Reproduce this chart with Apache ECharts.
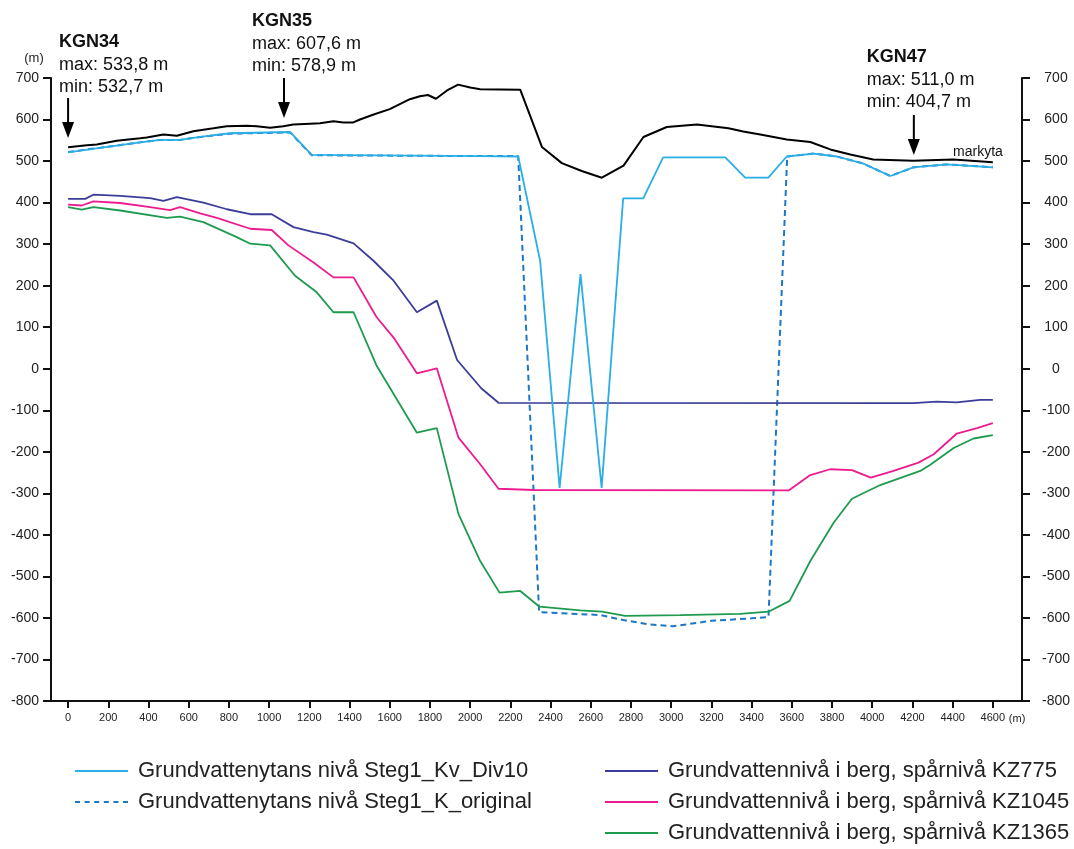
<!DOCTYPE html>
<html><head><meta charset="utf-8">
<script src="https://cdn.jsdelivr.net/npm/echarts@6/dist/echarts.min.js"></script>
<style>html,body{margin:0;padding:0;background:#fff}#c{width:1074px;height:849px}</style>
</head><body><div id="c"></div>
<script>
// ---------- data ----------
const xTicks = [0,200,400,600,800,1000,1200,1400,1600,1800,2000,2200,2400,2600,2800,3000,3200,3400,3600,3800,4000,4200,4400,4600];
const yTicks = [-800,-700,-600,-500,-400,-300,-200,-100,0,100,200,300,400,500,600,700];

const seriesNames = [
  'Grundvattenytans nivå Steg1_Kv_Div10',
  'Grundvattenytans nivå Steg1_K_original',
  'Grundvattennivå i berg, spårnivå KZ775',
  'Grundvattennivå i berg, spårnivå KZ1045',
  'Grundvattennivå i berg, spårnivå KZ1365'
];

const markyta = [[0,533],[93,538],[143,540],[242,549],[358,555],[391,557],[474,564],[541,561],[623,572],[723,579],[789,584],[889,585],[938,584],[1005,580],[1071,584],[1120,588],[1204,590],[1253,591],[1320,596],[1369,593],[1419,593],[1452,600],[1520,612],[1600,625],[1700,649],[1750,656],[1790,659],[1830,650],[1885,670],[1940,684],[2000,677],[2050,673],[2249,672],[2357,534],[2456,495],[2555,476],[2655,460],[2763,489],[2862,558],[2978,582],[3128,588],[3285,579],[3358,571],[3443,564],[3575,552],[3692,546],[3791,528],[3891,516],[4005,504],[4204,501],[4403,504],[4600,497]];

const kvDiv10 = [[0,521],[159,532],[358,545],[458,551],[557,551],[657,558],[806,567],[1104,570],[1212,515],[2050,512],[2239,511],[2348,260],[2445,-287],[2549,228],[2654,-287],[2761,410],[2861,410],[2960,509],[3269,509],[3368,460],[3483,460],[3575,511],[3708,518],[3824,511],[3956,494],[4090,464],[4205,485],[4372,492],[4600,485]];

const kOriginal = [[0,522],[159,532],[358,545],[458,551],[557,551],[657,558],[806,566],[1104,569],[1212,514],[2050,512],[2239,512],[2343,-586],[2647,-593],[2761,-605],[2880,-615],[3010,-620],[3200,-607],[3400,-601],[3484,-598],[3577,511],[3708,518],[3824,511],[3956,494],[4090,464],[4205,485],[4372,492],[4600,485]];

const kz775 = [[0,409],[85,409],[126,419],[259,416],[408,411],[474,404],[541,413],[673,400],[790,384],[906,372],[1013,372],[1121,341],[1221,329],[1287,323],[1420,302],[1519,260],[1619,212],[1735,136],[1834,164],[1935,21],[2055,-47],[2141,-82],[4204,-83],[4320,-79],[4420,-81],[4537,-75],[4600,-75]];

const kz1045 = [[0,395],[68,393],[126,403],[259,399],[408,389],[507,382],[557,389],[657,374],[740,363],[906,337],[1013,334],[1096,297],[1221,256],[1320,220],[1420,220],[1535,124],[1619,75],[1735,-11],[1834,1],[1942,-166],[2050,-230],[2141,-289],[2314,-292],[3584,-293],[3692,-256],[3791,-242],[3899,-244],[3993,-262],[4106,-246],[4230,-226],[4306,-206],[4421,-156],[4521,-143],[4600,-131]];

const kz1365 = [[0,389],[68,383],[126,389],[259,381],[491,363],[557,366],[673,353],[839,317],[906,301],[1005,297],[1129,224],[1237,184],[1320,136],[1420,136],[1535,7],[1735,-154],[1834,-143],[1942,-350],[2050,-463],[2146,-539],[2249,-535],[2345,-573],[2547,-582],[2655,-585],[2771,-595],[3045,-593],[3343,-590],[3484,-585],[3589,-559],[3692,-463],[3808,-371],[3899,-313],[4040,-280],[4239,-246],[4289,-231],[4405,-191],[4504,-168],[4600,-160]];

const wellNames = ['KGN34','KGN35','KGN47'];
const wellMax = ['533,8','607,6','511,0'];
const wellMin = ['532,7','578,9','404,7'];
const wellAt = [0, 1074, 4207];

// ---------- chart ----------
const FONT = '"Liberation Sans", Arial, sans-serif';
const chart = echarts.init(document.getElementById('c'), null, {renderer:'canvas'});
const axisCol = '#111';
const SOLID_ICON = 'path://M0,0H53V2H0Z';
const DASH_ICON = 'path://M0,0h5v2h-5zM9.6,0h5v2h-5zM19.2,0h5v2h-5zM28.8,0h5v2h-5zM38.4,0h5v2h-5zM48,0h5v2h-5z';
const yAxisBase = {
  type:'value', min:-800, max:700, interval:100,
  axisLine:{show:true, onZero:false, lineStyle:{color:axisCol, width:2}},
  axisTick:{show:true, length:8, lineStyle:{color:axisCol, width:2}},
  splitLine:{show:false},
  axisLabel:{fontSize:14, color:'#222', fontFamily:FONT}
};
const legendBase = {orient:'vertical', top:760, itemWidth:53, itemHeight:2, itemGap:9, padding:0,
  textStyle:{fontSize:22, color:'#222', fontFamily:FONT, padding:[0,0,0,5]}};
chart.setOption({
  animation:false,
  backgroundColor:'#fff',
  grid:{left:51, right:52, top:78, bottom:148, containLabel:false},
  xAxis:{
    type:'value', min:-85, max:4745,
    axisLine:{show:true, onZero:false, lineStyle:{color:axisCol, width:2}},
    axisTick:{show:true, length:7, customValues:xTicks, lineStyle:{color:axisCol, width:2}},
    axisLabel:{show:true, customValues:xTicks, fontSize:11, margin:11, color:'#222', fontFamily:FONT,
               formatter:(v) => String(v)},
    splitLine:{show:false}
  },
  yAxis:[
    Object.assign({}, yAxisBase, {position:'left', axisLabel:Object.assign({}, yAxisBase.axisLabel, {margin:12})}),
    Object.assign({}, yAxisBase, {position:'right', axisLabel:Object.assign({}, yAxisBase.axisLabel, {margin:34, align:'center'})})
  ],
  legend:[
    Object.assign({}, legendBase, {left:75, data:[
      {name:seriesNames[0], icon:SOLID_ICON},
      {name:seriesNames[1], icon:DASH_ICON}]}),
    Object.assign({}, legendBase, {left:605, data:[
      {name:seriesNames[2], icon:SOLID_ICON},
      {name:seriesNames[3], icon:SOLID_ICON},
      {name:seriesNames[4], icon:SOLID_ICON}]})
  ],
  series:[
    {name:'markyta', type:'line', data:markyta, symbol:'none', lineStyle:{color:'#000', width:2}, itemStyle:{color:'#000'}, z:2},
    {name:seriesNames[1], type:'line', data:kOriginal, symbol:'none', lineStyle:{color:'#1C78C4', width:2, type:[6,4]}, itemStyle:{color:'#1C78C4'}, z:3},
    {name:seriesNames[0], type:'line', data:kvDiv10, symbol:'none', lineStyle:{color:'#2AAEE6', width:1.8}, itemStyle:{color:'#2AAEE6'}, z:4},
    {name:seriesNames[2], type:'line', data:kz775, symbol:'none', lineStyle:{color:'#3C3D98', width:1.8}, itemStyle:{color:'#3C3D98'}, z:3},
    {name:seriesNames[3], type:'line', data:kz1045, symbol:'none', lineStyle:{color:'#EC1C8E', width:1.8}, itemStyle:{color:'#EC1C8E'}, z:3},
    {name:seriesNames[4], type:'line', data:kz1365, symbol:'none', lineStyle:{color:'#1E9B4E', width:1.8}, itemStyle:{color:'#1E9B4E'}, z:3}
  ]
});

// ---------- annotations (positioned through the axes) ----------
const px = (x, y) => chart.convertToPixel({xAxisIndex:0, yAxisIndex:0}, [x, y]);
const textLayout = [ // [text-left offset from arrow, title centre y, arrow top, arrow tip]
  [-9, 42, 98, 138],
  [-32, 21, 78, 118],
  [-47, 57, 115, 155]
];
const g = [];
wellNames.forEach((nm, i) => {
  const ax = px(wellAt[i], 0)[0];
  const [dx, ty, top, tip] = textLayout[i];
  const lx = ax + dx;
  g.push({type:'text', style:{x:lx, y:ty, text:nm, font:'bold 18px ' + FONT, fill:'#111', align:'left', verticalAlign:'middle'}});
  g.push({type:'text', style:{x:lx, y:ty + 23, text:'max: ' + wellMax[i] + ' m', font:'18px ' + FONT, fill:'#111', align:'left', verticalAlign:'middle'}});
  g.push({type:'text', style:{x:lx, y:ty + 45, text:'min: ' + wellMin[i] + ' m', font:'18px ' + FONT, fill:'#111', align:'left', verticalAlign:'middle'}});
  g.push({type:'line', shape:{x1:ax, y1:top, x2:ax, y2:tip - 10}, style:{stroke:'#000', lineWidth:2}});
  g.push({type:'polygon', shape:{points:[[ax, tip], [ax - 6, tip - 16], [ax + 6, tip - 16]]}, style:{fill:'#000'}});
});
const endPt = px(markyta[markyta.length - 1][0], markyta[markyta.length - 1][1]);
g.push({type:'text', style:{x:endPt[0] + 10, y:endPt[1] - 10, text:'markyta', font:'14px ' + FONT, fill:'#111', align:'right', verticalAlign:'middle'}});
const topLeft = px(-85, 700);
g.push({type:'text', style:{x:topLeft[0] - 17, y:topLeft[1] - 20, text:'(m)', font:'13px ' + FONT, fill:'#222', align:'center', verticalAlign:'middle'}});
const endX = px(4600, -800);
g.push({type:'text', style:{x:endX[0] + 16, y:endX[1] + 18, text:'(m)', font:'11px ' + FONT, fill:'#222', align:'left', verticalAlign:'middle'}});
chart.setOption({graphic:g});
</script>
</body></html>
